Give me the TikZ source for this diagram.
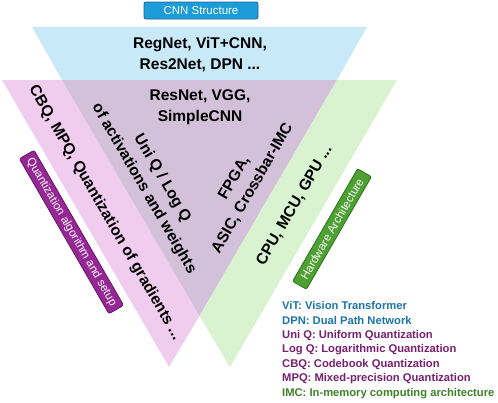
\documentclass[tikz,border=0pt]{standalone}
\usepackage{fontspec}
\setmainfont{Liberation Sans}
\definecolor{cnnblue}{RGB}{200,234,248}
\definecolor{qpink}{RGB}{240,205,239}
\definecolor{midpurple}{RGB}{211,193,218}
\definecolor{hwgreen}{RGB}{217,242,208}
\definecolor{tagblue}{RGB}{28,156,216}
\definecolor{tagblueb}{RGB}{30,100,150}
\definecolor{tagpurple}{RGB}{150,40,150}
\definecolor{tagpurpleb}{RGB}{105,20,105}
\definecolor{taggreen}{RGB}{77,160,50}
\definecolor{taggreenb}{RGB}{45,115,30}
\definecolor{legblue}{RGB}{27,117,168}
\definecolor{legpurple}{RGB}{122,30,112}
\definecolor{leggreen}{RGB}{60,130,40}
\tikzset{
  region/.style={draw=none},
  mainlabel/.style={inner sep=0pt, align=center, font=\fontsize{15.5}{21}\selectfont\bfseries},
  tagbox/.style={rounded corners=2pt, line width=0.8pt, text=white, inner sep=0pt,
    font=\fontsize{11.5}{13}\selectfont},
  legend/.style={inner sep=0pt, align=left, anchor=west, font=\fontsize{11.2}{14.4}\selectfont\bfseries}
}
\begin{document}
\begin{tikzpicture}[x=1pt,y=-1pt]
\useasboundingbox (0,0) rectangle (498,402);
% regions
\fill[cnnblue] (32,27) -- (367,27) -- (337,80) -- (62,80) -- cycle;
\fill[qpink] (2,80) -- (62,80) -- (199.5,316) -- (169,367) -- cycle;
\fill[midpurple] (62,80) -- (337,80) -- (199.5,316) -- cycle;
\fill[hwgreen] (337,80) -- (397,80) -- (230,367) -- (199.5,316) -- cycle;
% top tag
\node[tagbox, fill=tagblue, draw=tagblueb, minimum width=114pt, minimum height=17pt] (cnn) at (201,10.5) {CNN Structure};
% main labels
\node[mainlabel] (top) at (200,55) {RegNet, ViT+CNN,\\Res2Net, DPN ...};
\node[mainlabel] (mid) at (200,107.5) {ResNet, VGG,\\SimpleCNN};
\node[mainlabel, rotate=-60] (cbq) at (105,213) {CBQ, MPQ, Quantization of gradients ...};
\node[mainlabel, rotate=-60] (uni) at (153,183.5) {Uni Q / Log Q\\of activations and weights};
\node[mainlabel, rotate=60] (fpga) at (243.5,183) {FPGA,\\ASIC, Crossbar-IMC};
\node[mainlabel, rotate=60] (cpu) at (294.5,205.5) {CPU, MCU, GPU ...};
% side tags
\node[tagbox, fill=tagpurple, draw=tagpurpleb, rotate=-60, minimum width=179pt, minimum height=17pt] (qtag) at (71.5,232) {Quantization algorithm and setup};
\node[tagbox, fill=taggreen, draw=taggreenb, rotate=60, minimum width=130pt, minimum height=16pt] (hwtag) at (332,229) {Hardware Architecture};
% legend
\node[legend] (leg) at (282,350) {\textcolor{legblue}{ViT: Vision Transformer}\\
\textcolor{legblue}{DPN: Dual Path Network}\\
\textcolor{legpurple}{Uni Q: Uniform Quantization}\\
\textcolor{legpurple}{Log Q: Logarithmic Quantization}\\
\textcolor{legpurple}{CBQ: Codebook Quantization}\\
\textcolor{legpurple}{MPQ: Mixed-precision Quantization}\\
\textcolor{leggreen}{IMC: In-memory computing architecture}};
\end{tikzpicture}
\end{document}
